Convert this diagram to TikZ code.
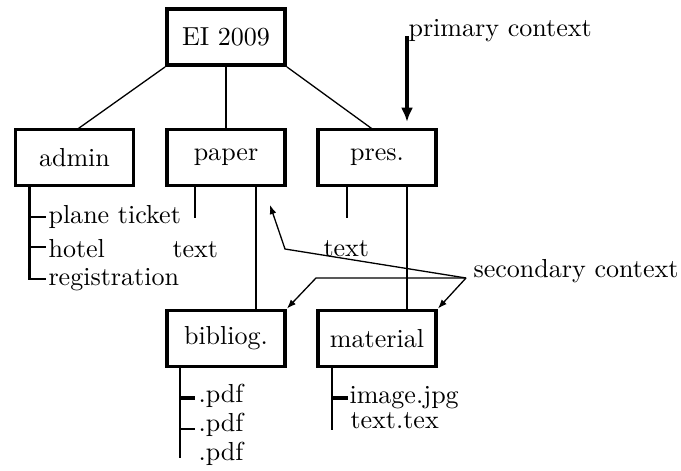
\documentclass[tikz,border=0pt]{standalone}
\usetikzlibrary{arrows.meta,calc}
\begin{document}
\begin{tikzpicture}[x=0.384pt,y=-0.384pt,
  box/.style={draw,line width=1.5pt,minimum width=45.3pt,minimum height=21.5pt,inner sep=0pt},
  lbl/.style={inner sep=0pt,anchor=base west},
  tree/.style={line width=0.8pt},
  ticktk/.style={line width=1.5pt},
  link/.style={line width=0.5pt},
  ctx/.style={line width=0.5pt,-{Latex[length=3.5pt,width=2.6pt]}},
  prim/.style={line width=1.5pt,-{Latex[length=5.5pt,width=4.6pt]}}]
\useasboundingbox (0,0) rectangle (681,471);
% boxes
\node[box] (ei) at (226,37) {EI 2009};
\node[box] (admin) at (74.5,157.5) {admin};
\node[box] (paper) at (226,157.5) {paper};
\node[box] (pres) at (377,157.5) {pres.};
\node[box] (bib) at (226,338.5) {bibliog.};
\node[box] (mat) at (377,338.5) {material};
% texts
\node[lbl] (pt) at (48,223) {plane ticket};
\node[lbl] (hotel) at (48,257) {hotel};
\node[lbl] (reg) at (48,285) {registration};
\node[lbl] (ptext) at (172,257) {text};
\node[lbl] (prtext) at (323,256) {text};
\node[lbl] (pdfa) at (198,402) {.pdf};
\node[lbl] (pdfb) at (198,431) {.pdf};
\node[lbl] (pdfc) at (198,460) {.pdf};
\node[lbl] (img) at (349,403) {image.jpg};
\node[lbl] (tex) at (350,428) {text.tex};
\node[lbl] (pc) at (408,37) {primary context};
\node[lbl] (sc) at (473,277) {secondary context};
% links from root
\draw[link] (ei.south west) -- (77,129.5);
\draw[tree] (ei.south) -- (paper.north);
\draw[link] (ei.south east) -- (373,129.5);
% admin tree
\draw[tree] (29.5,186) -- (29.5,279) -- (46,279);
\draw[tree] (29.5,217) -- (46,217);
\draw[tree] (29.5,247) -- (46,247);
% paper
\draw[tree] (195,186) -- (195,218);
\draw[tree] (256,186) -- (256,310);
% pres
\draw[tree] (347,186) -- (347,218);
\draw[tree] (407,186) -- (407,310);
% bibliog
\draw[tree] (180,368) -- (180,458);
\draw[ticktk] (180,398) -- (195,398);
\draw[tree] (180,429) -- (195,429);
% material
\draw[tree] (332,368) -- (332,430);
\draw[ticktk] (332,398) -- (348,398);
% primary context
\coordinate (pcs) at (407,36);
\draw[prim] (pcs) -- (407,122);
% secondary context
\coordinate (hub) at (466,278);
\draw[ctx] (hub) -- (285,249) -- (270,205);
\draw[ctx] (hub) -- (316,278) -- (bib.north east);
\draw[ctx] (hub) -- (mat.north east);
\end{tikzpicture}
\end{document}
